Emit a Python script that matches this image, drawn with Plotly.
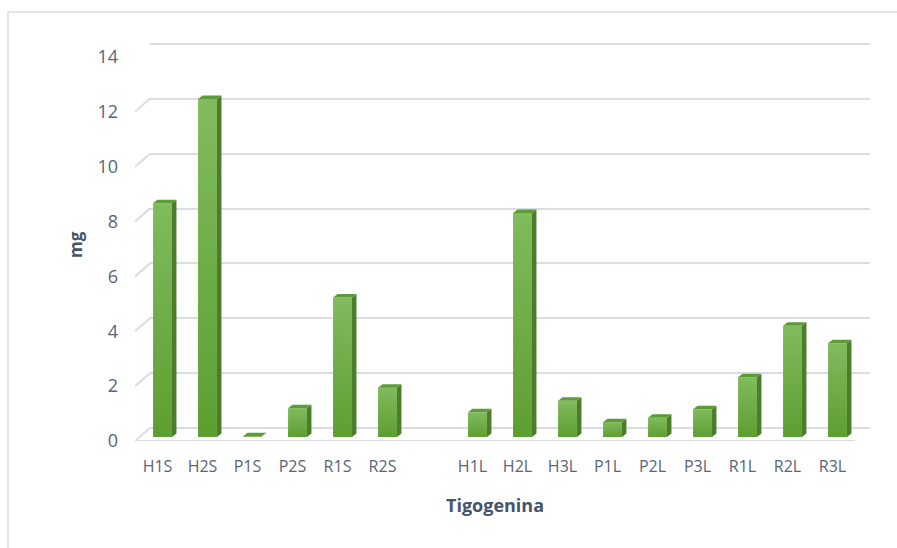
import plotly.graph_objects as go

# Tigogenina content per sample (mg)
labels_s = ["H1S", "H2S", "P1S", "P2S", "R1S", "R2S"]
values_s = [8.52, 12.32, 0.03, 1.05, 5.09, 1.80]
labels_l = ["H1L", "H2L", "H3L", "P1L", "P2L", "P3L", "R1L", "R2L", "R3L"]
values_l = [0.90, 8.17, 1.32, 0.54, 0.70, 1.01, 2.18, 4.06, 3.42]
y_ticks = [0, 2, 4, 6, 8, 10, 12, 14]

W, H = 897, 548
labels = labels_s + labels_l
values = values_s + values_l
# one empty slot separates the S and L groups
xpos = list(range(len(labels_s))) + [len(labels_s) + 1 + i for i in range(len(labels_l))]
n_slots = len(labels_s) + 1 + len(labels_l)
x_range = [-0.5, n_slots - 0.5]
y_range = [0, 14]

# pixel geometry of the pseudo-3D box (front plane, back wall, bar plane)
front = dict(x0=135, x1=855, y0=441, y1=57)
depth_dx, depth_dy = 15, 13
bar_dx, bar_dy = 5, 4
px_per_x = (front["x1"] - front["x0"]) / (x_range[1] - x_range[0])
px_per_y = (front["y0"] - front["y1"]) / (y_range[1] - y_range[0])


def xdom(x0, x1):
    return [x0 / W, x1 / W]


def ydom(y_bottom, y_top):
    return [1 - y_bottom / H, 1 - y_top / H]


tick_color = "#5a6476"
title_color = "#44546a"
grid_color = "#d9dce3"
font_family = "'Open Sans', Lato, sans-serif"

front_dark = "#5d9e31"
front_light = "#80bb5d"
side_c = "#4b7d2a"
top_c = "#5d9a38"

bar_w = 0.42
sx = 4.5 / px_per_x      # side face depth in x units
sy = 3.5 / px_per_y      # top face depth in y units

# back wall axis is padded a few pixels so its end gridlines are not dropped
pad_px = 3
pad_y = pad_px / px_per_y

fig = go.Figure()

# back wall gridlines (subplot 2)
fig.add_trace(go.Scatter(x=[None], y=[None], xaxis="x2", yaxis="y2",
                         showlegend=False, hoverinfo="skip"))

# side-wall slants from each front tick to the back wall, plus the front floor edge
wx, wy = [], []
for t in y_ticks:
    wx += [x_range[0], x_range[0] + depth_dx / px_per_x, None]
    wy += [t, t + depth_dy / px_per_y, None]
wx += [x_range[0], x_range[1], None]
wy += [0, 0, None]
fig.add_trace(go.Scatter(x=wx, y=wy, mode="lines", xaxis="x", yaxis="y",
                         line=dict(color=grid_color, width=2),
                         cliponaxis=False, showlegend=False, hoverinfo="skip"))

# front faces of the columns, each shaded from dark (base) to light (top)
for x, v, name in zip(xpos, values, labels):
    l, r = x - bar_w / 2, x + bar_w / 2
    fig.add_trace(go.Scatter(
        x=[l, r, r, l, l], y=[0, 0, v, v, 0], mode="lines", fill="toself",
        fillgradient=dict(type="vertical",
                          colorscale=[[0, front_dark], [1, front_light]]),
        line=dict(width=0, color=front_dark), name=name,
        xaxis="x3", yaxis="y3", cliponaxis=False, showlegend=False,
        hovertemplate=f"{name}: {v} mg<extra></extra>"))

# side and top faces
side_x, side_y, top_x, top_y = [], [], [], []
for x, v in zip(xpos, values):
    r = x + bar_w / 2
    l = x - bar_w / 2
    side_x += [r, r + sx, r + sx, r, r, None]
    side_y += [0, sy, v + sy, v, 0, None]
    top_x += [l, r, r + sx, l + sx, l, None]
    top_y += [v, v, v + sy, v + sy, v, None]
fig.add_trace(go.Scatter(x=side_x, y=side_y, mode="lines", fill="toself",
                         fillcolor=side_c, line=dict(width=0, color=side_c),
                         xaxis="x3", yaxis="y3", cliponaxis=False,
                         showlegend=False, hoverinfo="skip"))
fig.add_trace(go.Scatter(x=top_x, y=top_y, mode="lines", fill="toself",
                         fillcolor=top_c, line=dict(width=0, color=top_c),
                         xaxis="x3", yaxis="y3", cliponaxis=False,
                         showlegend=False, hoverinfo="skip"))

hidden = dict(showgrid=False, zeroline=False, showticklabels=False,
              showline=False, ticks="")

fig.update_layout(
    width=W, height=H, autosize=False,
    margin=dict(l=0, r=0, t=0, b=0, autoexpand=False),
    paper_bgcolor="white", plot_bgcolor="rgba(0,0,0,0)",
    font=dict(family=font_family, color=tick_color, size=16),
    xaxis=dict(domain=xdom(front["x0"], front["x1"]), range=x_range,
               anchor="y", tickmode="array", tickvals=xpos, ticktext=labels,
               showgrid=False, zeroline=False, showline=False, ticks="",
               ticklabelstandoff=14, automargin=False,
               tickfont=dict(size=16, color=tick_color)),
    yaxis=dict(domain=ydom(front["y0"], front["y1"]), range=y_range,
               anchor="x", tickmode="array", tickvals=y_ticks,
               showgrid=False, zeroline=False, showline=False, ticks="",
               ticklabelstandoff=16, automargin=False,
               tickfont=dict(size=18, color=tick_color)),
    xaxis2=dict(domain=xdom(front["x0"] + depth_dx, front["x1"] + depth_dx),
                range=x_range, anchor="y2", **hidden),
    yaxis2=dict(domain=ydom(front["y0"] - depth_dy + pad_px, front["y1"] - depth_dy - pad_px),
                range=[y_range[0] - pad_y, y_range[1] + pad_y], anchor="x2",
                tickmode="array", tickvals=y_ticks,
                showgrid=True, gridcolor=grid_color, gridwidth=2,
                zeroline=False, showticklabels=False, showline=False, ticks=""),
    xaxis3=dict(domain=xdom(front["x0"] + bar_dx, front["x1"] + bar_dx),
                range=x_range, anchor="y3", **hidden),
    yaxis3=dict(domain=ydom(front["y0"] - bar_dy, front["y1"] - bar_dy),
                range=y_range, anchor="x3", **hidden),
    shapes=[dict(type="rect", xref="paper", yref="paper",
                 x0=8 / W, x1=1.05, y0=-0.05, y1=1 - 12 / H,
                 line=dict(color="#d9dde3", width=1.5), fillcolor="rgba(0,0,0,0)",
                 layer="below")],
    annotations=[
        dict(text="<b>mg</b>", xref="paper", yref="paper",
             x=75 / W, y=1 - 245 / H, xanchor="center", yanchor="middle",
             showarrow=False, textangle=-90,
             font=dict(size=17, color=title_color)),
        dict(text="<b>Tigogenina</b>", xref="paper", yref="paper",
             x=495 / W, y=1 - 505 / H, xanchor="center", yanchor="middle",
             showarrow=False, font=dict(size=18, color=title_color)),
    ],
)

fig.write_html("out.html")
